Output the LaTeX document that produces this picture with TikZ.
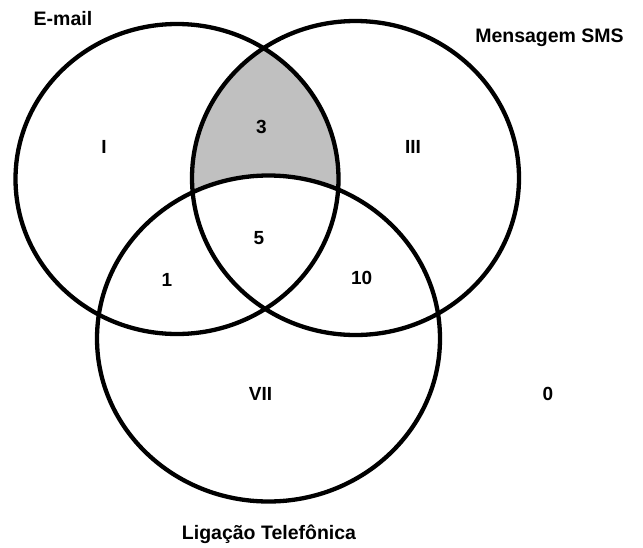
\documentclass[tikz,border=0pt]{standalone}
\usepackage{fontspec}
\setmainfont{Liberation Sans}
\definecolor{lensgray}{RGB}{192,192,192}
\tikzset{
  set/.style={line width=4.3pt},
  title/.style={anchor=base, inner sep=0pt, font=\fontsize{19.5}{22}\selectfont\bfseries},
  region/.style={anchor=base, inner sep=0pt, font=\fontsize{19}{21}\selectfont\bfseries}
}
\begin{document}
\begin{tikzpicture}[x=1pt, y=-1pt]
\useasboundingbox (0,0) rectangle (643,547);
% shaded part: E-mail and SMS only
\begin{scope}
\clip (177,179) ellipse [x radius=161.5pt, y radius=155pt];
\fill[lensgray] (355.5,178) ellipse [x radius=163.5pt, y radius=157pt];
\fill[white] (268.5,338.5) ellipse [x radius=171.5pt, y radius=163pt];
\end{scope}
\draw[set] (177,179) ellipse [x radius=161.5pt, y radius=155pt];
\draw[set] (355.5,178) ellipse [x radius=163.5pt, y radius=157pt];
\draw[set] (268.5,338.5) ellipse [x radius=171.5pt, y radius=163pt];
% titles
\node[title] (T_email) at (63,25) {E-mail};
\node[title] (T_sms) at (549.5,42.3) {Mensagem SMS};
\node[title] (T_lig) at (269,539.3) {Ligação Telefônica};
% regions
\node[region] (R_1) at (104,153) {I};
\node[region] (R_2) at (261.5,133.3) {3};
\node[region] (R_3) at (413,153) {III};
\node[region] (R_4) at (259,244) {5};
\node[region] (R_5) at (167,286) {1};
\node[region] (R_6) at (361.7,284) {10};
\node[region] (R_7) at (260.5,400) {VII};
\node[region] (R_0) at (548,400) {0};
\end{tikzpicture}
\end{document}
